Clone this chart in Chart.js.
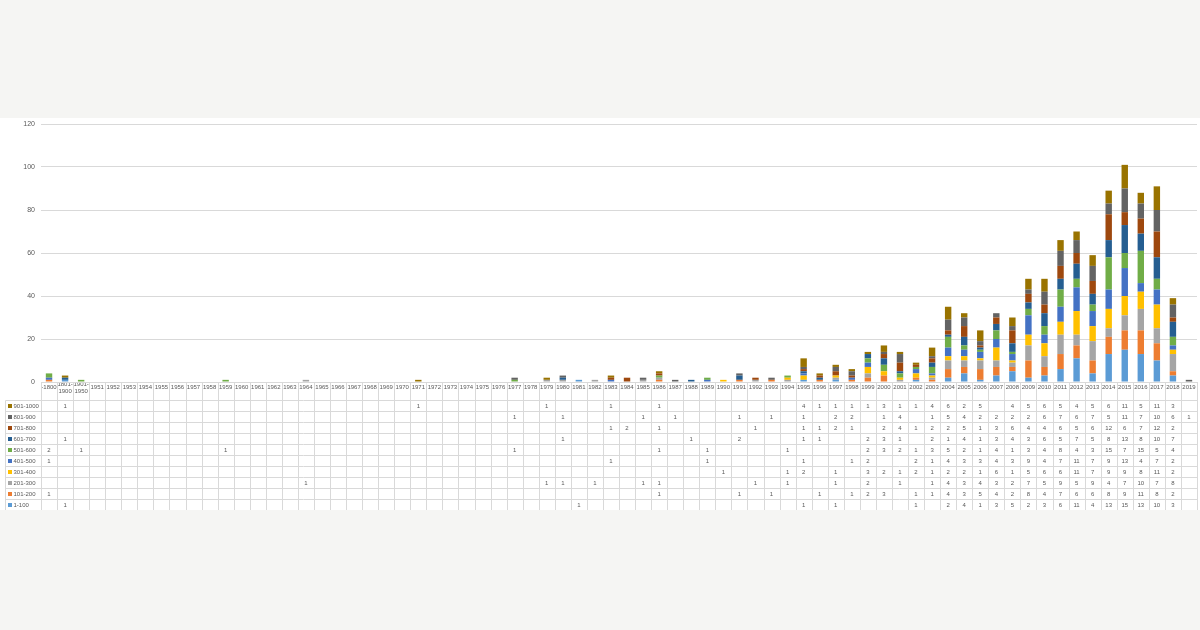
<!DOCTYPE html>
<html>
<head>
<meta charset="utf-8">
<script src="https://cdn.jsdelivr.net/npm/chart.js@4.4.1/dist/chart.umd.min.js"></script>
<style>
  html, body { margin: 0; padding: 0; background: #f5f5f3; width: 1200px; height: 630px; overflow: hidden; }
  #wrap { position: absolute; left: 0; top: 118px; width: 1200px; height: 392px; background: #ffffff; }
  canvas { display: block; }
</style>
</head>
<body>
<div id="wrap"><canvas id="c" width="1200" height="392"></canvas></div>
<script>
// ---- categories (x-axis / table header) ----
const categories = [
  '-1800', ['1801-', '1900'], ['1901-', '1950'],
  '1951','1952','1953','1954','1955','1956','1957','1958','1959','1960',
  '1961','1962','1963','1964','1965','1966','1967','1968','1969',
  '1970','1971','1972','1973','1974','1975','1976','1977','1978','1979',
  '1980','1981','1982','1983','1984','1985','1986','1987','1988','1989',
  '1990','1991','1992','1993','1994','1995','1996','1997','1998','1999',
  '2000','2001','2002','2003','2004','2005','2006','2007','2008','2009',
  '2010','2011','2012','2013','2014','2015','2016','2017','2018','2019'
];

// ---- series values (pre-1951 | 1951-1969 | 1970-1989 | 1990-2019) ----
const s1_100 = [
  0,1,0,
  0,0,0,0,0,0,0,0,0,0,0,0,0,0,0,0,0,0,0,
  0,0,0,0,0,0,0,0,0,0,0,1,0,0,0,0,0,0,0,0,
  0,0,0,0,0,1,0,1,0,0,0,0,1,0,2,4,1,3,5,2,3,6,11,4,13,15,13,10,3,0
];
const s101_200 = [
  1,0,0,
  0,0,0,0,0,0,0,0,0,0,0,0,0,0,0,0,0,0,0,
  0,0,0,0,0,0,0,0,0,0,0,0,0,0,0,0,1,0,0,0,
  0,1,0,1,0,0,1,0,1,2,3,0,1,1,4,3,5,4,2,8,4,7,6,6,8,9,11,8,2,0
];
const s201_300 = [
  0,0,0,
  0,0,0,0,0,0,0,0,0,0,0,0,0,1,0,0,0,0,0,
  0,0,0,0,0,0,0,0,0,1,1,0,1,0,0,1,1,0,0,0,
  0,0,1,0,1,0,0,1,0,2,0,1,0,1,4,3,4,3,2,7,5,9,5,9,4,7,10,7,8,0
];
const s301_400 = [
  0,0,0,
  0,0,0,0,0,0,0,0,0,0,0,0,0,0,0,0,0,0,0,
  0,0,0,0,0,0,0,0,0,0,0,0,0,0,0,0,0,0,0,0,
  1,0,0,0,1,2,0,1,0,3,2,1,2,1,2,2,1,6,1,5,6,6,11,7,9,9,8,11,2,0
];
const s401_500 = [
  1,0,0,
  0,0,0,0,0,0,0,0,0,0,0,0,0,0,0,0,0,0,0,
  0,0,0,0,0,0,0,0,0,0,0,0,0,1,0,0,0,0,0,1,
  0,0,0,0,0,1,0,0,1,2,0,0,2,1,4,3,3,4,3,9,4,7,11,7,9,13,4,7,2,0
];
const s501_600 = [
  2,0,1,
  0,0,0,0,0,0,0,0,1,0,0,0,0,0,0,0,0,0,0,
  0,0,0,0,0,0,0,1,0,0,0,0,0,0,0,0,1,0,0,1,
  0,0,0,0,1,0,0,0,0,2,3,2,1,3,5,2,1,4,1,3,4,8,4,3,15,7,15,5,4,0
];
const s601_700 = [
  0,1,0,
  0,0,0,0,0,0,0,0,0,0,0,0,0,0,0,0,0,0,0,
  0,0,0,0,0,0,0,0,0,0,1,0,0,0,0,0,0,0,1,0,
  0,2,0,0,0,1,1,0,0,2,3,1,0,2,1,4,1,3,4,3,6,5,7,5,8,13,8,10,7,0
];
const s701_800 = [
  0,0,0,
  0,0,0,0,0,0,0,0,0,0,0,0,0,0,0,0,0,0,0,
  0,0,0,0,0,0,0,0,0,0,0,0,0,1,2,0,1,0,0,0,
  0,0,1,0,0,1,1,2,1,0,2,4,1,2,2,5,1,3,6,4,4,6,5,6,12,6,7,12,2,0
];
const s801_900 = [
  0,0,0,
  0,0,0,0,0,0,0,0,0,0,0,0,0,0,0,0,0,0,0,
  0,0,0,0,0,0,0,1,0,0,1,0,0,0,0,1,0,1,0,0,
  0,1,0,1,0,1,0,2,2,0,1,4,0,1,5,4,2,2,2,2,6,7,6,7,5,11,7,10,6,1
];
const s901_1000 = [
  0,1,0,
  0,0,0,0,0,0,0,0,0,0,0,0,0,0,0,0,0,0,0,
  0,1,0,0,0,0,0,0,0,1,0,0,0,1,0,0,1,0,0,0,
  0,0,0,0,0,4,1,1,1,1,3,1,1,4,6,2,5,0,4,5,6,5,4,5,6,11,5,11,3,0
];

const seriesNames = ['1-100','101-200','201-300','301-400','401-500','501-600','601-700','701-800','801-900','901-1000'];
const seriesData  = [s1_100, s101_200, s201_300, s301_400, s401_500, s501_600, s601_700, s701_800, s801_900, s901_1000];
const seriesColors = ['#5B9BD5','#ED7D31','#A5A5A5','#FFC000','#4472C4','#70AD47','#255E91','#9E480E','#636363','#997300'];
const yTicks = [0, 20, 40, 60, 80, 100, 120];

const FONT = "'Liberation Sans', 'DejaVu Sans', sans-serif";
const TEXT = '#595959';
const LINE = '#d9d9d9';

const tablePlugin = {
  id: 'dataTable',
  afterDraw(chart) {
    const ctx = chart.ctx;
    const xs = chart.scales.x;
    const area = chart.chartArea;
    const n = categories.length;
    const headTop = area.bottom;
    const headBottom = xs.bottom;
    const rowH = 11;
    const rows = seriesNames.length;
    const tableBottom = headBottom + rowH * rows;
    const legLeft = 5;
    const centers = [];
    for (let i = 0; i < n; i++) centers.push(xs.getPixelForValue(i));
    const bounds = [area.left];
    for (let i = 1; i < n; i++) bounds.push((centers[i - 1] + centers[i]) / 2);
    bounds.push(area.right);
    const px = v => Math.round(v) + 0.5;

    ctx.save();
    ctx.strokeStyle = LINE;
    ctx.lineWidth = 1;
    ctx.beginPath();
    for (const b of bounds) {
      ctx.moveTo(px(b), px(headTop));
      ctx.lineTo(px(b), px(tableBottom));
    }
    ctx.moveTo(px(legLeft), px(headBottom));
    ctx.lineTo(px(legLeft), px(tableBottom));
    ctx.moveTo(px(area.left), px(headTop));
    ctx.lineTo(px(area.right), px(headTop));
    for (let r = 0; r <= rows; r++) {
      const y = px(headBottom + r * rowH);
      ctx.moveTo(px(legLeft), y);
      ctx.lineTo(px(area.right), y);
    }
    ctx.stroke();

    ctx.font = '6px ' + FONT;
    ctx.textBaseline = 'middle';
    for (let r = 0; r < rows; r++) {
      const si = rows - 1 - r;
      const yc = headBottom + r * rowH + rowH / 2 + 0.5;
      ctx.fillStyle = seriesColors[si];
      ctx.fillRect(8, Math.round(yc) - 2, 4, 4);
      ctx.fillStyle = TEXT;
      ctx.textAlign = 'left';
      ctx.fillText(seriesNames[si], 13.5, yc);
      ctx.textAlign = 'center';
      const data = seriesData[si];
      for (let i = 0; i < n; i++) {
        if (data[i]) ctx.fillText(String(data[i]), centers[i], yc);
      }
    }
    ctx.restore();
  }
};

new Chart(document.getElementById('c'), {
  type: 'bar',
  data: {
    labels: categories,
    datasets: seriesNames.map((name, i) => ({
      label: name,
      data: seriesData[i],
      backgroundColor: seriesColors[i],
      borderWidth: 0,
      categoryPercentage: 1.0,
      barPercentage: 0.4
    }))
  },
  options: {
    responsive: false,
    animation: false,
    devicePixelRatio: 1,
    layout: { padding: { top: 6, right: 3, bottom: 110, left: 0 } },
    plugins: { legend: { display: false }, tooltip: { enabled: false } },
    scales: {
      x: {
        stacked: true,
        grid: { display: false, drawTicks: false },
        border: { display: true, color: LINE },
        ticks: {
          autoSkip: false, maxRotation: 0, minRotation: 0,
          padding: 2, crossAlign: 'center',
          color: TEXT, font: { size: 6, family: FONT }
        },
        afterFit: s => { s.height = 18; }
      },
      y: {
        stacked: true,
        min: 0, max: 120,
        afterBuildTicks: s => { s.ticks = yTicks.map(v => ({ value: v })); },
        grid: { color: LINE, drawTicks: false },
        border: { display: false },
        ticks: { padding: 6, color: TEXT, font: { size: 7, family: FONT } },
        afterFit: s => { s.width = 41; s.paddingTop = 0; s.paddingBottom = 0; }
      }
    }
  },
  plugins: [tablePlugin]
});
</script>
</body>
</html>
